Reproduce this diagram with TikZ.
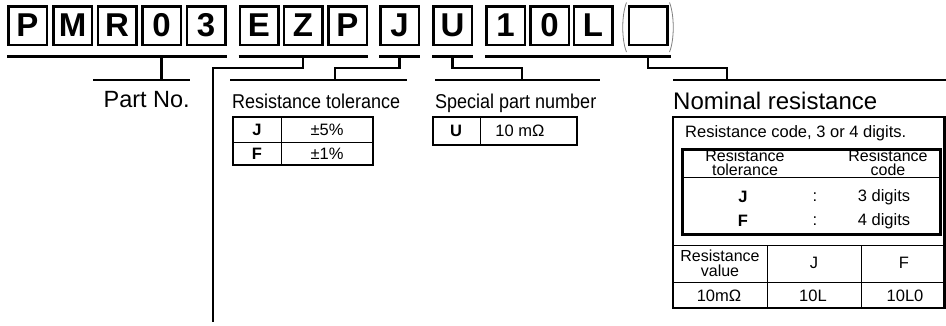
\documentclass[tikz,border=0pt]{standalone}
\usepackage{fontspec}
\setmainfont{Liberation Sans}
\newfontfamily\narrowfont[FakeStretch=0.9]{Liberation Sans}
\begin{document}
\begin{tikzpicture}[x=1pt, y=-1pt,
    letterbox/.style={draw, line width=2.5pt, minimum size=38.5pt, inner sep=0pt,
        font=\fontsize{33}{33}\selectfont\bfseries},
    uline/.style={line width=3pt},
    conn/.style={line width=2.5pt},
    frame/.style={line width=2.5pt},
    rule/.style={line width=0.9pt},
    paren/.style={gray, line width=0.8pt},
    title/.style={inner sep=0pt, font=\fontsize{23.5}{24}\selectfont},
    narrowtitle/.style={inner sep=0pt, font=\fontsize{20}{20}\narrowfont},
    cell/.style={inner sep=0pt, font=\fontsize{16.5}{16.5}\selectfont},
    boldcell/.style={cell, font=\fontsize{16.5}{16.5}\selectfont\bfseries},
    twoline/.style={inner sep=0pt, align=center, font=\fontsize{16}{14.5}\selectfont}]
    \useasboundingbox (0, 0) rectangle (946, 325);
        % part number boxes
        \node[letterbox] (c1) at (27.5, 25.5) {P};
        \node[letterbox] (c2) at (72.5, 25.5) {M};
        \node[letterbox] (c3) at (117, 25.5) {R};
        \node[letterbox] (c4) at (161.5, 25.5) {0};
        \node[letterbox] (c5) at (206, 25.5) {3};
        \node[letterbox] (c6) at (259, 25.5) {E};
        \node[letterbox] (c7) at (303, 25.5) {Z};
        \node[letterbox] (c8) at (347.5, 25.5) {P};
        \node[letterbox] (c9) at (399.5, 25.5) {J};
        \node[letterbox] (c10) at (452.5, 25.5) {U};
        \node[letterbox] (c11) at (505.5, 25.5) {1};
        \node[letterbox] (c12) at (549.5, 25.5) {0};
        \node[letterbox] (c13) at (593, 25.5) {L};
        \node[letterbox] (c14) at (648, 25.5) {};
        \draw[paren] (626.5, 2.5) .. controls (621.5, 15) and (621.5, 40) .. (626.5, 52);
        \draw[paren] (669.5, 2.5) .. controls (674.5, 15) and (674.5, 40) .. (669.5, 52);
        % levels of the brackets
        \coordinate (top) at (0, 56);
        \coordinate (mid) at (0, 68);
        \coordinate (low) at (0, 80);
        \draw[uline] (c1.south west |- top) -- (c5.south east |- top);
        \draw[uline] (c6.south west |- top) -- (c8.south east |- top);
        \draw[uline] (c9.south west |- top) -- (c9.south east |- top);
        \draw[uline] (c10.south west |- top) -- (c10.south east |- top);
        \draw[uline] (c11.south west |- top) -- ([xshift=2pt]c14.south east |- top);
        % Part No.
        \coordinate (pnL) at (93, 80);
        \coordinate (pnR) at (190, 80);
        \draw[conn] (pnL) -- (pnR);
        \draw[conn] (c4 |- top) -- (c4 |- low);
        \node[title, anchor=base east] (pn) at (190, 107) {Part No.};
        % long line down
        \coordinate (pcB) at (213, 322);
        \draw[conn] (c7 |- top) |- (pcB |- mid) -- (pcB);
        % Resistance tolerance
        \coordinate (rtL) at (230, 80);
        \coordinate (rtR) at (407, 80);
        \coordinate (rtJ) at (335, 80);
        \draw[conn] (rtL) -- (rtR);
        \draw[conn] (c9 |- top) |- (rtJ |- mid) -- (rtJ);
        \node[narrowtitle, anchor=base west] (rt) at (232, 108) {Resistance tolerance};
        \draw[rule] (233, 142) -- (373, 142);
        \draw[rule] (281, 117) -- (281, 165);
        \draw[frame] (233, 117) rectangle (373, 165);
        \node[boldcell] (rtj) at (257, 130) {J};
        \node[cell] (rtjv) at (327, 130) {±5\%};
        \node[boldcell] (rtf) at (257, 154) {F};
        \node[cell] (rtfv) at (327, 154) {±1\%};
        % Special part number
        \coordinate (spL) at (435, 80);
        \coordinate (spR) at (600, 80);
        \coordinate (spJ) at (522, 80);
        \draw[conn] (spL) -- (spR);
        \draw[conn] (c10 |- top) |- (spJ |- mid) -- (spJ);
        \node[narrowtitle, anchor=base west] (sp) at (435, 108) {Special part number};
        \draw[rule] (480, 117) -- (480, 145);
        \draw[frame] (433, 117) rectangle (577, 145);
        \node[boldcell] (spu) at (456, 131) {U};
        \node[cell] (spuv) at (520, 131) {10 mΩ};
        % Nominal resistance
        \coordinate (nrL) at (673, 80);
        \coordinate (nrR) at (946, 80);
        \coordinate (nrJ) at (727, 80);
        \draw[conn] (nrL) -- (nrR);
        \draw[conn] (c14 |- top) |- (nrJ |- mid) -- (nrJ);
        \node[title, font=\fontsize{24}{24}\selectfont, anchor=base west] (nr) at (673, 109) {Nominal resistance};
        \draw[frame] (673, 117) rectangle (944.5, 308);
        \node[cell, anchor=west] (nrcode) at (685, 133) {Resistance code, 3 or 4 digits.};
        \draw[rule] (682, 177) -- (940, 177);
        \draw[line width=3pt] (682, 149) rectangle (940, 234);
        \node[twoline] (hdtol) at (745, 163) {Resistance\\tolerance};
        \node[twoline] (hdcode) at (888, 163) {Resistance\\code};
        \node[boldcell] (rowj) at (743, 197) {J};
        \node[cell] (colj) at (815, 197) {:};
        \node[cell] (digj) at (884, 197) {3 digits};
        \node[boldcell] (rowf) at (743, 221) {F};
        \node[cell] (colf) at (815, 221) {:};
        \node[cell] (digf) at (884, 221) {4 digits};
        \draw[rule] (673, 245) -- (944.5, 245);
        \draw[rule] (673, 282) -- (944.5, 282);
        \draw[rule] (767, 245) -- (767, 308);
        \draw[rule] (861, 245) -- (861, 308);
        \node[twoline] (hdval) at (720, 263.5) {Resistance\\value};
        \node[cell] (hdj) at (814, 263) {J};
        \node[cell] (hdf) at (904, 263) {F};
        \node[cell] (val) at (719, 296) {10mΩ};
        \node[cell] (codej) at (813, 296) {10L};
        \node[cell] (codef) at (905, 296) {10L0};
    \end{tikzpicture}
\end{document}
